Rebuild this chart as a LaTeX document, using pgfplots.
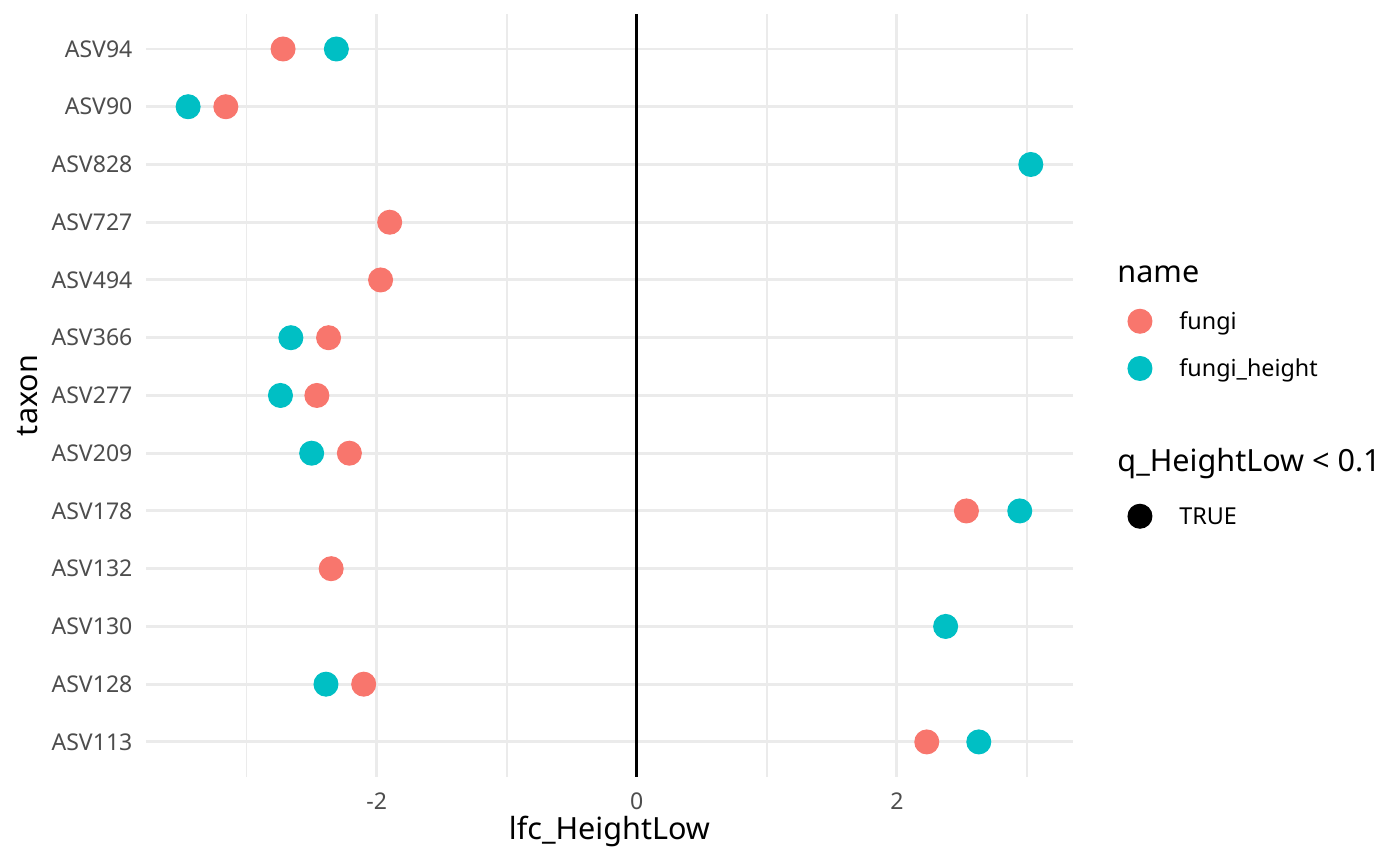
\documentclass[border=0pt]{standalone}
\usepackage{fontspec}
\setmainfont{Noto Sans}
\usepackage{pgfplots}
\usepackage{pgfplotstable}
\pgfplotsset{compat=1.18}

\definecolor{cfungi}{HTML}{F8766D}
\definecolor{cheight}{HTML}{00BFC4}
\definecolor{gridgray}{HTML}{EBEBEB}
\definecolor{ticktext}{HTML}{4D4D4D}

% y index: 0 = ASV113 (bottom) ... 12 = ASV94 (top)
\pgfplotstableread{
y x
0 2.23
1 -2.10
3 -2.35
4 2.535
5 -2.21
6 -2.46
7 -2.37
8 -1.97
9 -1.90
11 -3.16
12 -2.72
}\fungi

\pgfplotstableread{
y x
0 2.63
1 -2.39
2 2.375
4 2.945
5 -2.50
6 -2.74
7 -2.66
10 3.03
11 -3.45
12 -2.31
}\fungiheight

\begin{document}
\begin{tikzpicture}
\useasboundingbox (0,0) rectangle (504pt,311.76pt);
\begin{axis}[
    at={(52.56pt,32.2pt)}, anchor=south west,
    scale only axis,
    width=333.7pt, height=274.4pt,
    xmin=-3.774, xmax=3.354,
    ymin=-0.6, ymax=12.6,
    xtick={-2,0,2},
    xticklabels={-2,0,2},
    minor xtick={-3,-1,1,3},
    ytick={0,...,12},
    yticklabels={ASV113,ASV128,ASV130,ASV132,ASV178,ASV209,ASV277,ASV366,ASV494,ASV727,ASV828,ASV90,ASV94},
    axis line style={draw=none},
    major tick length=0pt, minor tick length=0pt,
    xmajorgrids, xminorgrids, ymajorgrids,
    major grid style={gridgray, line width=1.07pt},
    minor grid style={gridgray, line width=0.55pt},
    tick label style={font=\fontsize{8.3}{10}\selectfont, text=ticktext, inner sep=0pt},
    yticklabel style={anchor=east, xshift=-4.7pt},
    xticklabel style={anchor=north, yshift=-5.5pt},
    xlabel={lfc\_HeightLow},
    ylabel={taxon},
    label style={font=\fontsize{11}{13}\selectfont},
    xlabel style={at={(axis description cs:0.5,-0.083)}, anchor=base},
    ylabel style={at={(axis description cs:-0.1274,0.5)}, anchor=center},
    clip=true,
    legend cell align=left,
    legend style={
        at={(axis description cs:1.0588,0.6819)}, anchor=north west,
        draw=none, fill=none, inner sep=0pt,
        row sep=5pt, column sep=9.9pt,
        nodes={inner sep=0pt, text height=9pt, text depth=3pt},
        font=\fontsize{8.4}{10}\selectfont,
    },
    legend image code/.code={\draw[#1] plot coordinates {(0pt,0pt)};},
]
\addplot[black, line width=1pt, forget plot] coordinates {(0,-0.6) (0,12.6)};

\addlegendimage{empty legend}
\addlegendentry{\hspace*{-22.3pt}\fontsize{11}{13}\selectfont name}

\addplot[only marks, mark=*, mark size=4.3pt, color=cfungi] table[x=x, y=y] {\fungi};
\addlegendentry{fungi}

\addplot[only marks, mark=*, mark size=4.3pt, color=cheight] table[x=x, y=y] {\fungiheight};
\addlegendentry{fungi\_height}

\addlegendimage{empty legend}
\addlegendentry{}

\addlegendimage{empty legend}
\addlegendentry[text depth=5.2pt]{\hspace*{-22.3pt}\fontsize{11}{13}\selectfont q\_HeightLow < 0.1}

\addlegendimage{only marks, mark=*, mark size=4.3pt, color=black}
\addlegendentry{TRUE}
\end{axis}
\end{tikzpicture}
\end{document}
